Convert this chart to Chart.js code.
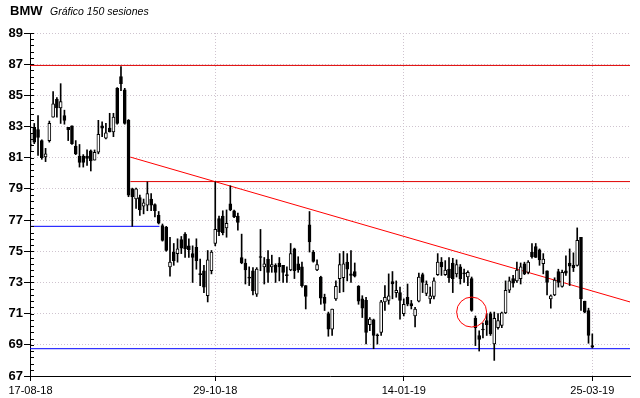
<!DOCTYPE html>
<html>
<head>
<meta charset="utf-8">
<script src="https://cdn.jsdelivr.net/npm/chart.js@4.4.1/dist/chart.umd.min.js"></script>
<style>
html, body { margin: 0; padding: 0; background: #fff; }
</style>
</head>
<body>
<canvas id="velas" width="640" height="398"></canvas>
<script>
// valores (150 sesiones)
var apertura = [81.85,82.95,82.8,82.1,81.05,82.1,83.6,84.75,84.2,83.7,
  82.95,83.05,81.75,81.1,81.1,81.1,81.45,80.85,81.35,83.05,
  82.25,82.9,82.65,85.45,86.2,85.35,83.4,79.0,78.35,78.45,
  77.9,77.95,78.35,78.0,77.3,76.65,76.55,74.0,74.95,74.85,
  75.75,76.1,75.35,74.85,75.25,73.55,73.75,72.15,73.75,75.5,
  77.1,77.25,76.5,78.05,77.6,77.25,74.6,74.25,73.3,73.75,
  72.25,74.62,74.0,74.5,74.0,74.1,74.25,74.1,73.46,73.8,
  75.15,74.2,74.0,72.8,76.7,74.95,73.8,73.35,72.05,71.0,
  70.0,71.95,73.25,73.3,74.3,73.55,73.7,72.75,71.95,71.85,
  70.3,70.6,69.6,69.8,71.75,71.85,73.05,72.35,72.35,71.0,
  72.05,71.65,70.85,71.8,73.5,72.3,71.95,72.1,73.5,74.3,
  73.5,73.85,74.25,73.55,74.0,73.6,73.35,73.25,70.7,69.6,
  70.0,70.55,71.0,69.05,70.1,70.25,71.05,72.5,73.25,73.1,
  73.25,74.2,73.65,74.95,75.3,75.1,74.2,73.75,71.95,72.2,
  73.7,72.75,73.75,74.25,74.1,74.1,75.9,71.8,71.2,68.95];
var maximo = [82.5,83.2,83.7,82.15,81.6,83.35,85.25,84.85,85.75,84.05,
  82.95,83.05,82.1,81.85,81.2,81.5,81.5,81.5,83.4,83.3,
  83.2,83.85,83.85,85.5,86.85,85.45,83.45,79.05,79.05,78.6,
  78.35,79.45,78.7,78.05,77.55,76.75,76.6,75.9,75.5,75.8,
  75.95,76.2,75.8,75.35,75.8,74.5,74.1,75.05,75.05,79.45,
  77.25,77.6,77.65,79.2,77.65,77.45,76.1,74.5,74.0,73.95,
  73.95,76.4,74.6,75.05,74.75,74.2,74.6,74.1,74.0,75.5,
  75.2,74.65,74.3,72.8,77.55,75.05,74.45,73.4,72.25,71.1,
  71.3,73.1,74.85,75.0,74.85,75.05,74.25,72.8,72.15,72.05,
  70.75,70.65,69.7,71.85,72.8,73.55,73.7,73.1,72.7,71.95,
  72.9,71.85,71.4,73.6,73.6,73.1,72.7,73.3,74.85,74.6,
  74.4,74.6,74.55,74.45,74.15,73.85,73.75,73.35,70.85,69.9,
  70.4,71.0,71.1,71.1,71.0,71.1,73.1,73.35,73.45,74.3,
  74.25,74.3,74.4,75.5,75.5,75.15,74.85,73.75,72.2,73.3,
  73.85,73.8,74.7,75.15,74.9,76.5,75.9,71.8,71.35,69.7];
var minimo = [81.4,81.9,81.15,80.9,80.75,82.0,83.6,83.6,83.2,83.15,
  82.1,81.85,81.2,80.4,80.4,80.5,80.15,80.85,81.25,82.35,
  82.2,82.65,82.35,83.15,85.3,83.15,78.5,76.6,77.75,77.3,
  77.4,77.6,77.6,77.2,76.75,75.65,75.0,73.4,74.1,74.3,
  74.85,74.6,74.6,73.0,73.85,72.8,72.35,71.75,73.55,75.35,
  76.0,76.05,75.9,77.6,77.15,76.35,74.2,72.9,72.8,72.2,
  72.1,73.75,72.9,73.0,73.65,73.0,73.1,73.0,73.0,73.75,
  73.25,73.65,72.7,71.3,74.95,74.3,73.75,71.6,71.2,69.55,
  69.6,71.85,72.35,72.4,73.1,73.0,73.35,71.6,70.75,69.05,
  69.9,68.75,69.05,69.6,71.2,71.6,71.95,72.05,70.65,70.85,
  71.5,71.3,70.15,71.75,72.35,72.15,71.65,71.95,73.45,73.45,
  73.45,73.0,72.35,73.35,72.9,73.0,72.8,71.15,68.95,68.6,
  69.45,69.6,69.6,68.0,70.0,70.1,71.0,72.35,72.7,73.0,
  72.9,73.5,73.55,74.55,74.6,74.1,73.55,72.2,71.35,72.15,
  72.7,72.7,73.45,72.8,73.7,74.05,71.2,71.05,69.1,68.8];
var cierre = [81.75,82.0,82.3,81.0,81.25,83.2,84.45,84.2,84.6,83.4,
  82.8,81.9,81.25,80.7,80.7,80.95,80.8,81.35,82.5,82.9,
  82.6,82.65,83.6,83.2,85.75,83.2,78.6,78.5,79.0,77.65,
  78.1,78.7,77.95,77.6,76.8,75.7,75.05,74.3,74.4,75.15,
  75.2,75.15,75.1,74.6,74.4,73.5,72.7,74.45,74.95,76.4,
  76.25,76.2,76.8,77.65,77.2,76.85,74.25,73.8,73.28,72.45,
  73.85,74.6,74.2,73.65,74.15,73.65,74.0,73.65,73.44,74.85,
  73.75,73.8,72.8,72.1,75.6,74.35,74.15,72.0,71.65,70.0,
  71.3,72.75,74.15,74.2,73.85,73.45,73.4,71.8,71.35,69.8,
  70.65,69.6,69.58,71.75,72.05,72.15,72.9,72.5,71.85,71.6,
  71.6,71.5,71.3,73.35,73.0,72.9,72.15,73.1,74.3,74.0,
  73.8,73.3,73.25,74.15,73.25,73.55,73.65,71.2,70.1,69.35,
  69.95,70.3,69.7,70.7,70.55,71.05,72.5,73.1,72.95,73.8,
  74.0,73.55,74.3,74.65,74.6,74.45,74.5,73.0,72.15,73.15,
  73.0,73.65,73.6,74.05,73.95,75.7,71.95,71.1,69.6,68.85];

var fechas = ["17-08-18", "29-10-18", "14-01-19", "25-03-19"];
var sesionFechas = [0, 49, 99, 149];

// lineas dibujadas sobre el grafico: [sesion inicio, valor inicio, sesion fin, valor fin]
var tendencia = [26.5, 81.04, 159, 71.75];
var resistencia1 = [-0.13, 86.92, 159, 86.92];
var resistencia2 = [26.5, 79.47, 159, 79.47];
var soporte1 = [-0.13, 76.6, 34.2, 76.6];
var soporte2 = [-0.13, 68.75, 159, 68.75];
var circulo = [117, 71.1];

var mechas = [];
var cuerpos = [];
var colores = [];
for (var i = 0; i < cierre.length; i++) {
    mechas.push({x: i, y: [minimo[i], maximo[i]]});
    cuerpos.push({x: i, y: [apertura[i], cierre[i]]});
    colores.push(cierre[i] > apertura[i] ? '#ffffff' : '#000000');
}

function linea(l, color) {
    return {
        type: 'line',
        data: [{x: l[0], y: l[1]}, {x: l[2], y: l[3]}],
        borderColor: color,
        borderWidth: 1,
        pointRadius: 0,
        fill: false,
        order: 2
    };
}

var titulo = {
    id: 'titulo',
    afterDraw: function (chart) {
        var ctx = chart.ctx;
        ctx.save();
        ctx.fillStyle = '#000';
        ctx.textBaseline = 'alphabetic';
        ctx.font = 'bold 13px "Liberation Sans"';
        ctx.fillText('BMW', 10, 15);
        ctx.font = 'italic 10.5px "Liberation Sans"';
        ctx.fillText('Gráfico 150 sesiones', 50, 15);
        ctx.restore();
    }
};

// marcas menores del eje de precios
var marcas = {
    id: 'marcas',
    afterDraw: function (chart) {
        var ejeY = chart.scales.y;
        var ctx = chart.ctx;
        var x0 = chart.chartArea.left;
        ctx.save();
        ctx.strokeStyle = '#000';
        ctx.lineWidth = 1;
        ctx.beginPath();
        for (var k = 0; k <= 55; k++) {
            var py = Math.round(ejeY.getPixelForValue(67 + k * 0.4)) + 0.5;
            ctx.moveTo(x0, py);
            ctx.lineTo(x0 + 4, py);
        }
        ctx.stroke();
        ctx.restore();
    }
};

new Chart(document.getElementById("velas"), {
    type: 'bar',
    data: {
        datasets: [
            {
                type: 'line',
                data: [{x: circulo[0], y: circulo[1]}],
                showLine: false,
                pointRadius: 15,
                pointBackgroundColor: 'rgba(0,0,0,0)',
                pointBorderColor: '#ff0000',
                pointBorderWidth: 1,
                order: 0
            },
            {
                label: 'cuerpos',
                data: cuerpos,
                backgroundColor: colores,
                borderColor: '#000000',
                borderWidth: 1,
                borderSkipped: false,
                barThickness: 3,
                minBarLength: 1,
                grouped: false,
                order: 0
            },
            {
                label: 'mechas',
                data: mechas,
                backgroundColor: '#000000',
                borderWidth: 0,
                barThickness: 1,
                grouped: false,
                order: 1
            },
            linea(tendencia, '#ff0000'),
            linea(resistencia1, '#e00000'),
            linea(resistencia2, '#e00000'),
            linea(soporte1, '#0000ff'),
            linea(soporte2, '#0000ff')
        ]
    },
    options: {
        responsive: false,
        animation: false,
        layout: {autoPadding: false, padding: {top: 33, right: 10, left: 0, bottom: 0}},
        plugins: {
            legend: {display: false},
            tooltip: {enabled: false}
        },
        scales: {
            x: {
                type: 'linear',
                min: -0.13,
                max: 159,
                offset: false,
                afterBuildTicks: function (eje) {
                    eje.ticks = sesionFechas.map(function (v) { return {value: v}; });
                },
                afterFit: function (eje) {
                    eje.height = 22;
                    eje.paddingLeft = 0;
                    eje.paddingRight = 0;
                },
                ticks: {
                    autoSkip: false,
                    maxRotation: 0,
                    padding: 3,
                    color: '#000',
                    font: {family: 'Liberation Sans', size: 11},
                    callback: function (v) {
                        var k = sesionFechas.indexOf(v);
                        return k >= 0 ? fechas[k] : '';
                    }
                },
                grid: {
                    offset: false,
                    color: function (c) {
                        return c.tick && c.tick.value === 0 ? 'rgba(0,0,0,0)' : '#cfc4cf';
                    },
                    tickColor: '#000',
                    tickLength: 5
                },
                border: {display: true, color: '#000', width: 1, dash: [1, 2]}
            },
            y: {
                min: 67,
                max: 89,
                afterFit: function (eje) { eje.width = 30; },
                ticks: {
                    stepSize: 2,
                    padding: 1,
                    color: '#000',
                    font: {family: 'Liberation Sans', size: 13, weight: 'bold'}
                },
                grid: {
                    color: '#cfc4cf',
                    tickColor: '#000',
                    tickLength: 6
                },
                border: {display: true, color: '#000', width: 1, dash: [1, 2]}
            }
        }
    },
    plugins: [titulo, marcas]
});
</script>
</body>
</html>
